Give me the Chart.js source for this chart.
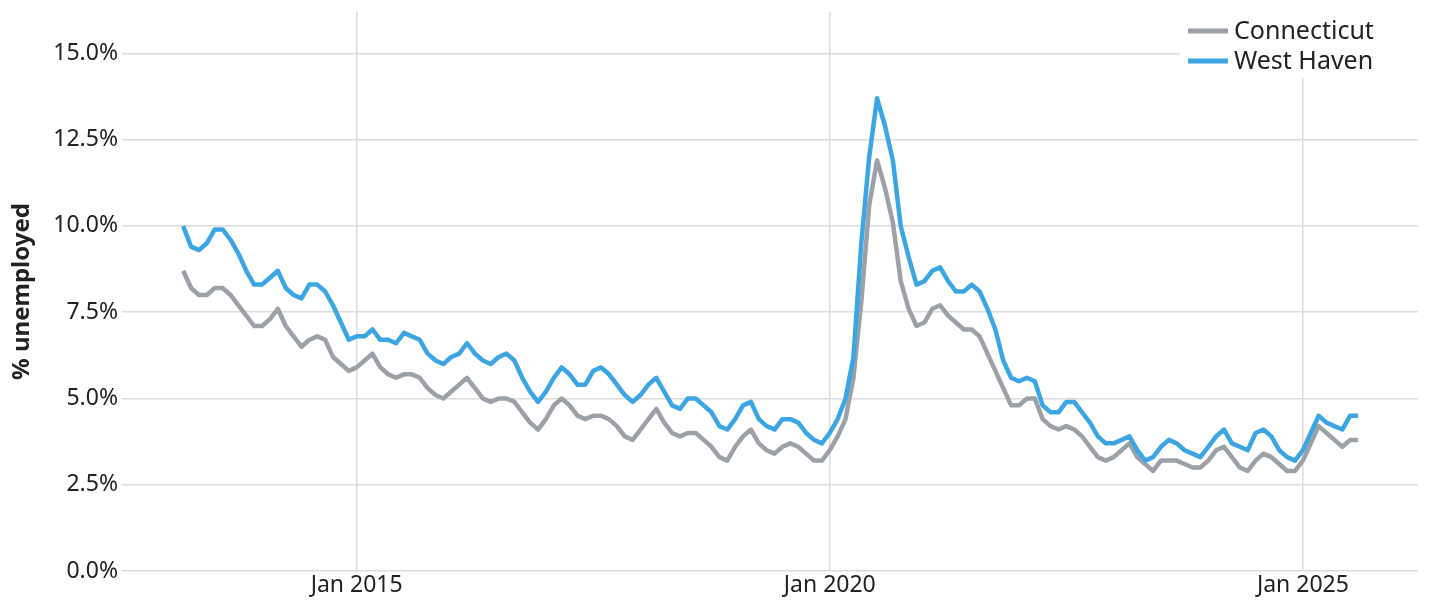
<!DOCTYPE html>
<html>
<head>
<meta charset="utf-8">
<title>Unemployment rate</title>
<script src="https://cdn.jsdelivr.net/npm/chart.js@4.4.1/dist/chart.umd.min.js"></script>
<style>
  html, body { margin: 0; padding: 0; background: #fff; }
  #wrap { width: 1429px; height: 600px; position: relative; }
</style>
</head>
<body>
<div id="wrap"><canvas id="chart"></canvas></div>
<script>
/* =============== Data =============== */
// monthly series, first point Mar 2013
const startYear = 2013;
const startMonth = 3;

const seriesNames = ["Connecticut", "West Haven"];

const connecticut = [
  8.7, 8.2, 8.0, 8.0, 8.2, 8.2, 8.0, 7.7, 7.4, 7.1, 7.1, 7.3, 7.6, 7.1, 6.8, 6.5, 6.7, 6.8, 6.7, 6.2,
  6.0, 5.8, 5.9, 6.1, 6.3, 5.9, 5.7, 5.6, 5.7, 5.7, 5.6, 5.3, 5.1, 5.0, 5.2, 5.4, 5.6, 5.3, 5.0, 4.9,
  5.0, 5.0, 4.9, 4.6, 4.3, 4.1, 4.4, 4.8, 5.0, 4.8, 4.5, 4.4, 4.5, 4.5, 4.4, 4.2, 3.9, 3.8, 4.1, 4.4,
  4.7, 4.3, 4.0, 3.9, 4.0, 4.0, 3.8, 3.6, 3.3, 3.2, 3.6, 3.9, 4.1, 3.7, 3.5, 3.4, 3.6, 3.7, 3.6, 3.4,
  3.2, 3.2, 3.5, 3.9, 4.4, 5.6, 7.8, 10.6, 11.9, 11.1, 10.1, 8.4, 7.6, 7.1, 7.2, 7.6, 7.7, 7.4, 7.2, 7.0,
  7.0, 6.8, 6.3, 5.8, 5.3, 4.8, 4.8, 5.0, 5.0, 4.4, 4.2, 4.1, 4.2, 4.1, 3.9, 3.6, 3.3, 3.2, 3.3, 3.5,
  3.7, 3.3, 3.1, 2.9, 3.2, 3.2, 3.2, 3.1, 3.0, 3.0, 3.2, 3.5, 3.6, 3.3, 3.0, 2.9, 3.2, 3.4, 3.3, 3.1,
  2.9, 2.9, 3.2, 3.7, 4.2, 4.0, 3.8, 3.6, 3.8, 3.8
];

const westHaven = [
  10.0, 9.4, 9.3, 9.5, 9.9, 9.9, 9.6, 9.2, 8.7, 8.3, 8.3, 8.5, 8.7, 8.2, 8.0, 7.9, 8.3, 8.3, 8.1, 7.7,
  7.2, 6.7, 6.8, 6.8, 7.0, 6.7, 6.7, 6.6, 6.9, 6.8, 6.7, 6.3, 6.1, 6.0, 6.2, 6.3, 6.6, 6.3, 6.1, 6.0,
  6.2, 6.3, 6.1, 5.6, 5.2, 4.9, 5.2, 5.6, 5.9, 5.7, 5.4, 5.4, 5.8, 5.9, 5.7, 5.4, 5.1, 4.9, 5.1, 5.4,
  5.6, 5.2, 4.8, 4.7, 5.0, 5.0, 4.8, 4.6, 4.2, 4.1, 4.4, 4.8, 4.9, 4.4, 4.2, 4.1, 4.4, 4.4, 4.3, 4.0,
  3.8, 3.7, 4.0, 4.4, 5.0, 6.2, 9.5, 12.0, 13.7, 12.9, 11.9, 10.0, 9.1, 8.3, 8.4, 8.7, 8.8, 8.4, 8.1, 8.1,
  8.3, 8.1, 7.6, 7.0, 6.1, 5.6, 5.5, 5.6, 5.5, 4.8, 4.6, 4.6, 4.9, 4.9, 4.6, 4.3, 3.9, 3.7, 3.7, 3.8,
  3.9, 3.5, 3.2, 3.3, 3.6, 3.8, 3.7, 3.5, 3.4, 3.3, 3.6, 3.9, 4.1, 3.7, 3.6, 3.5, 4.0, 4.1, 3.9, 3.5,
  3.3, 3.2, 3.5, 4.0, 4.5, 4.3, 4.2, 4.1, 4.5, 4.5
];

const xTickYears = [2015, 2020, 2025];
const yTicks = [0, 2.5, 5, 7.5, 10, 12.5, 15];

/* =============== Helpers =============== */
const toYear = (i) => startYear + (startMonth - 1 + i) / 12;
const points = (arr) => arr.map((v, i) => ({ x: toYear(i), y: v }));

const COLORS = { gray: "#9ca0a7", blue: "#3ba6e3", text: "#222", grid: "#dcdcdc" };
const FONT = "'Noto Sans', 'Open Sans', sans-serif";

Chart.defaults.font.family = FONT;
Chart.defaults.color = COLORS.text;

/* legend drawn inside the plot, top right, on a white box */
const insideLegend = {
  id: "insideLegend",
  afterDatasetsDraw(chart) {
    const { ctx, chartArea } = chart;
    const boxW = 238, boxH = 66;
    const x0 = chartArea.right - boxW, y0 = chartArea.top;
    ctx.save();
    ctx.fillStyle = "#fff";
    ctx.fillRect(x0, y0, boxW, boxH);
    const items = [
      { label: seriesNames[0], color: COLORS.gray },
      { label: seriesNames[1], color: COLORS.blue }
    ];
    ctx.font = "25px " + FONT;
    ctx.textBaseline = "middle";
    items.forEach((it, k) => {
      const y = y0 + 19 + k * 30;
      ctx.strokeStyle = it.color;
      ctx.lineWidth = 5;
      ctx.beginPath();
      ctx.moveTo(x0 + 8, y);
      ctx.lineTo(x0 + 48, y);
      ctx.stroke();
      ctx.fillStyle = COLORS.text;
      ctx.fillText(it.label, x0 + 54, y + 1);
    });
    ctx.restore();
  }
};

/* =============== Chart =============== */
new Chart(document.getElementById("chart"), {
  type: "line",
  data: {
    datasets: [
      {
        label: seriesNames[0],
        data: points(connecticut),
        borderColor: COLORS.gray,
        borderWidth: 4.5,
        pointRadius: 0,
        tension: 0,
        borderJoinStyle: "round",
        order: 1
      },
      {
        label: seriesNames[1],
        data: points(westHaven),
        borderColor: COLORS.blue,
        borderWidth: 4.5,
        pointRadius: 0,
        tension: 0,
        borderJoinStyle: "round",
        order: 0
      }
    ]
  },
  options: {
    responsive: true,
    maintainAspectRatio: false,
    animation: false,
    layout: { padding: { top: 12, right: 11, left: 0, bottom: 0 } },
    plugins: {
      legend: { display: false },
      tooltip: { enabled: false }
    },
    scales: {
      x: {
        type: "linear",
        min: toYear(-7),
        max: toYear(156.6),
        afterBuildTicks: (s) => { s.ticks = xTickYears.map(v => ({ value: v })); },
        afterFit: (s) => { s.height = 29; },
        ticks: {
          font: { size: 23 },
          padding: 1,
          maxRotation: 0,
          callback: (v) => "Jan " + v
        },
        grid: { color: COLORS.grid, lineWidth: 1.5, drawTicks: false },
        border: { display: false }
      },
      y: {
        min: 0,
        max: 16.2,
        afterBuildTicks: (s) => { s.ticks = yTicks.map(v => ({ value: v })); },
        afterFit: (s) => { s.width = 128; s.paddingTop = 0; s.paddingBottom = 0; },
        ticks: {
          font: { size: 23 },
          padding: 4,
          callback: (v) => v.toFixed(1) + "%"
        },
        grid: { color: COLORS.grid, lineWidth: 1.5, tickLength: 6 },
        border: { display: false },
        title: {
          display: true,
          text: "% unemployed",
          font: { size: 24, weight: "bold" },
          padding: { top: 8, bottom: 0 }
        }
      }
    }
  },
  plugins: [insideLegend]
});
</script>
</body>
</html>
